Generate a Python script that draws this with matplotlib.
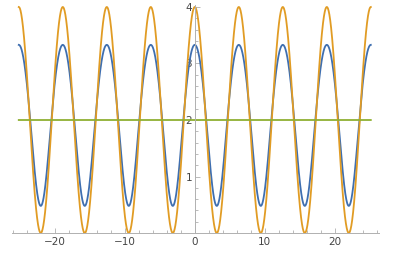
import numpy as np
import matplotlib.pyplot as plt
from matplotlib.ticker import MultipleLocator

# plot range and curve parameters
x_range = (-8 * np.pi, 8 * np.pi)
orange_mid, orange_amp = 2.0, 2.0              # swings 0..4
blue_mid, blue_amp, blue_amp2 = 2.0, 1.425, -0.095  # swings ~0.48..3.33
green_level = 2.0

x = np.linspace(x_range[0], x_range[1], 3000)
orange = orange_mid + orange_amp * np.cos(x)
blue = blue_mid + blue_amp * np.cos(x) + blue_amp2 * np.cos(2 * x)
green = np.full_like(x, green_level)

fig = plt.figure(figsize=(3.97, 2.56), dpi=100)
ax = fig.add_axes([0.0302, 0.0898, 0.9244, 0.8895])

ax.plot(x, blue, color="#3f6fb0", lw=1.3)
ax.plot(x, orange, color="#e19c24", lw=1.3)
ax.plot(x, green, color="#8fb032", lw=1.3)

ax.set_xlim(-26.1, 26.3)
ax.set_ylim(0, 4.03)

ax.spines["left"].set_position(("data", 0))
ax.spines["bottom"].set_position(("data", 0))
for s in ("top", "right"):
    ax.spines[s].set_visible(False)
for s in ("left", "bottom"):
    ax.spines[s].set_color("#b0b0b0")
    ax.spines[s].set_linewidth(0.7)

ax.xaxis.set_major_locator(MultipleLocator(10))
ax.xaxis.set_minor_locator(MultipleLocator(2))
ax.set_yticks([1, 2, 3, 4])
ax.yaxis.set_minor_locator(MultipleLocator(0.2))

ax.tick_params(axis="both", which="both", direction="in", color="#b0b0b0",
               labelcolor="#444444", labelsize=7.5, width=0.6)
ax.tick_params(axis="both", which="major", length=3.5, pad=3)
ax.tick_params(axis="both", which="minor", length=2)
ax.tick_params(axis="y", pad=2)

ax.set_xticklabels([])
ax.xaxis.set_major_formatter(plt.FuncFormatter(lambda v, p: f"{v:.0f}".replace("-", "\u2212")))

fig.savefig("out.png", dpi=100)
